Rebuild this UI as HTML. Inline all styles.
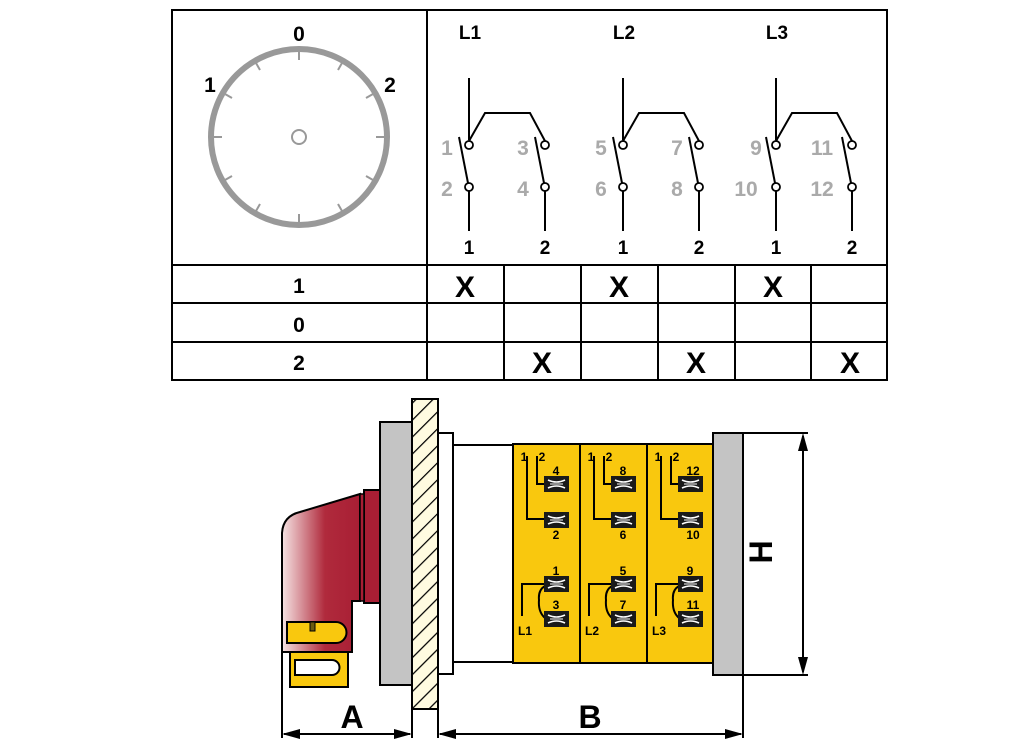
<!DOCTYPE html>
<html><head><meta charset="utf-8"><style>
html,body{margin:0;padding:0;background:#fff;}
svg{display:block;font-family:"Liberation Sans",Arial,sans-serif;font-weight:bold;}
</style></head><body>
<svg width="1024" height="747" viewBox="0 0 1024 747" xmlns="http://www.w3.org/2000/svg">
<defs>
<linearGradient id="rg" x1="0" x2="1" y1="0" y2="0">
<stop offset="0" stop-color="#f6e4e4"/><stop offset="0.55" stop-color="#b02a3c"/><stop offset="1" stop-color="#a81e34"/>
</linearGradient>
<pattern id="hatch" width="12" height="12" patternUnits="userSpaceOnUse" patternTransform="rotate(45)">
<rect width="12" height="12" fill="#fffbe0"/><line x1="0" y1="0" x2="0" y2="12" stroke="#000" stroke-width="2.5"/>
</pattern>
<g id="term">
<rect x="0" y="0" width="25" height="16" fill="#1a1a1a"/>
<path d="M4 4 Q12.5 8 21 4 M4 12 Q12.5 8 21 12" stroke="#fff" stroke-width="1.6" fill="none"/>
<line x1="6" y1="8" x2="19" y2="8" stroke="#fff" stroke-width="1"/>
</g>
<g id="sw" fill="none" stroke="#000" stroke-width="2">
<line x1="41" y1="68" x2="41" y2="130"/>
<polyline points="41,131 57,103 102,103 117,131"/>
<line x1="31" y1="127" x2="40" y2="173"/>
<line x1="107" y1="127" x2="116" y2="173"/>
<line x1="41" y1="181" x2="41" y2="221"/>
<line x1="117" y1="181" x2="117" y2="221"/>
<circle cx="41" cy="135" r="4" fill="#fff" stroke-width="1.8"/>
<circle cx="117" cy="135" r="4" fill="#fff" stroke-width="1.8"/>
<circle cx="41" cy="177" r="4" fill="#fff" stroke-width="1.8"/>
<circle cx="117" cy="177" r="4" fill="#fff" stroke-width="1.8"/>
</g>
</defs>

<!-- table -->
<g stroke="#000" stroke-width="2" fill="none">
<rect x="172" y="10" width="715" height="370"/>
<line x1="427" y1="10" x2="427" y2="380"/>
<line x1="172" y1="265" x2="887" y2="265"/>
<line x1="172" y1="303" x2="887" y2="303"/>
<line x1="172" y1="342" x2="887" y2="342"/>
<line x1="504" y1="265" x2="504" y2="380"/>
<line x1="581" y1="265" x2="581" y2="380"/>
<line x1="658" y1="265" x2="658" y2="380"/>
<line x1="735" y1="265" x2="735" y2="380"/>
<line x1="811" y1="265" x2="811" y2="380"/>
</g>
<g font-size="21" text-anchor="middle" fill="#000">
<text x="299" y="293">1</text><text x="299" y="332">0</text><text x="299" y="370">2</text>
</g>
<g font-size="30" text-anchor="middle" fill="#000">
<text x="465" y="297">X</text><text x="619" y="297">X</text><text x="773" y="297">X</text>
<text x="542" y="373">X</text><text x="696" y="373">X</text><text x="850" y="373">X</text>
</g>

<!-- dial -->
<circle cx="299" cy="137" r="88" fill="none" stroke="#999" stroke-width="6"/>
<circle cx="299" cy="137" r="7" fill="none" stroke="#999" stroke-width="2"/>
<g stroke="#999" stroke-width="2">
<line x1="299" y1="52" x2="299" y2="60"/>
<line x1="299" y1="214" x2="299" y2="222"/>
<line x1="214" y1="137" x2="222" y2="137"/>
<line x1="376" y1="137" x2="384" y2="137"/>
<line x1="256" y1="63" x2="260" y2="70"/>
<line x1="342" y1="63" x2="338" y2="70"/>
<line x1="225" y1="94" x2="232" y2="98"/>
<line x1="373" y1="94" x2="366" y2="98"/>
<line x1="225" y1="180" x2="232" y2="176"/>
<line x1="373" y1="180" x2="366" y2="176"/>
<line x1="256" y1="211" x2="260" y2="204"/>
<line x1="342" y1="211" x2="338" y2="204"/>
</g>
<g font-size="21" text-anchor="middle" fill="#000">
<text x="299" y="41">0</text><text x="210" y="92">1</text><text x="390" y="92">2</text>
</g>

<!-- switches -->
<g font-size="19" text-anchor="middle">
<g transform="translate(428,10)">
<use href="#sw"/>
<text x="42" y="29" fill="#000">L1</text>
<text x="41" y="244" fill="#000">1</text><text x="117" y="244" fill="#000">2</text>
<text x="19" y="145" fill="#aaa" font-size="21">1</text><text x="19" y="186" fill="#aaa" font-size="21">2</text>
<text x="95" y="145" fill="#aaa" font-size="21">3</text><text x="95" y="186" fill="#aaa" font-size="21">4</text>
</g>
<g transform="translate(582,10)">
<use href="#sw"/>
<text x="42" y="29" fill="#000">L2</text>
<text x="41" y="244" fill="#000">1</text><text x="117" y="244" fill="#000">2</text>
<text x="19" y="145" fill="#aaa" font-size="21">5</text><text x="19" y="186" fill="#aaa" font-size="21">6</text>
<text x="95" y="145" fill="#aaa" font-size="21">7</text><text x="95" y="186" fill="#aaa" font-size="21">8</text>
</g>
<g transform="translate(735,10)">
<use href="#sw"/>
<text x="42" y="29" fill="#000">L3</text>
<text x="41" y="244" fill="#000">1</text><text x="117" y="244" fill="#000">2</text>
<text x="21" y="145" fill="#aaa" font-size="21">9</text><text x="11" y="186" fill="#aaa" font-size="21">10</text>
<text x="87" y="145" fill="#aaa" font-size="21">11</text><text x="87" y="186" fill="#aaa" font-size="21">12</text>
</g>
</g>

<!-- bottom drawing -->
<g stroke="#000" stroke-width="2">
<!-- body -->
<rect x="453" y="445" width="60" height="217" fill="#fff"/>
<rect x="438" y="433" width="15" height="241" fill="#fff"/>
<rect x="412" y="399" width="26" height="310" fill="url(#hatch)"/>
<rect x="380" y="422" width="32" height="263" fill="#c4c4c4"/>
<!-- red handle -->
<rect x="364" y="490" width="16" height="113" fill="#a81e34"/>
<path d="M282 652 L282 533 Q283 516 300 512 L360 494 L360 601 L352 601 L352 652 Z" fill="url(#rg)"/>
<rect x="360" y="494" width="4" height="107" fill="#a81e34" stroke-width="1.5"/>
<path d="M287 622 L336 622 A10.5 10.5 0 0 1 336 643 L287 643 Z" fill="#f9c80e"/>
<rect x="310" y="622" width="5" height="9" fill="#6b5a10" stroke-width="1"/>
<rect x="290" y="652" width="58" height="35" fill="#f9c80e"/>
<path d="M295 660 L332 660 A7.5 7.5 0 0 1 332 675 L295 675 Z" fill="#fff"/>
<!-- modules -->
<rect x="513" y="444" width="200" height="219" fill="#f9c80e"/>
<line x1="580" y1="444" x2="580" y2="663"/>
<line x1="647" y1="444" x2="647" y2="663"/>
<rect x="713" y="433" width="30" height="242" fill="#c4c4c4"/>
</g>

<!-- module internals -->
<g font-size="12" text-anchor="middle" fill="#000">
<g transform="translate(0,0)">
<path d="M527 456 V519 H545 M537 456 V484 H545 M545 584 H522 V616 M545 586 Q538 590 539 600 Q538 612 545 618" stroke="#000" stroke-width="2" fill="none"/>
<use href="#term" x="544" y="476"/><use href="#term" x="544" y="512"/><use href="#term" x="544" y="576"/><use href="#term" x="544" y="611"/>
<text x="524" y="461">1</text><text x="542" y="461">2</text>
<text x="556" y="475">4</text><text x="556" y="539">2</text><text x="556" y="575">1</text><text x="556" y="609">3</text>
<text x="525" y="635">L1</text>
</g>
<g transform="translate(67,0)">
<path d="M527 456 V519 H545 M537 456 V484 H545 M545 584 H522 V616 M545 586 Q538 590 539 600 Q538 612 545 618" stroke="#000" stroke-width="2" fill="none"/>
<use href="#term" x="544" y="476"/><use href="#term" x="544" y="512"/><use href="#term" x="544" y="576"/><use href="#term" x="544" y="611"/>
<text x="524" y="461">1</text><text x="542" y="461">2</text>
<text x="556" y="475">8</text><text x="556" y="539">6</text><text x="556" y="575">5</text><text x="556" y="609">7</text>
<text x="525" y="635">L2</text>
</g>
<g transform="translate(134,0)">
<path d="M527 456 V519 H545 M537 456 V484 H545 M545 584 H522 V616 M545 586 Q538 590 539 600 Q538 612 545 618" stroke="#000" stroke-width="2" fill="none"/>
<use href="#term" x="544" y="476"/><use href="#term" x="544" y="512"/><use href="#term" x="544" y="576"/><use href="#term" x="544" y="611"/>
<text x="524" y="461">1</text><text x="542" y="461">2</text>
<text x="559" y="475">12</text><text x="559" y="539">10</text><text x="556" y="575">9</text><text x="559" y="609">11</text>
<text x="525" y="635">L3</text>
</g>
</g>

<!-- dimensions -->
<g stroke="#000" stroke-width="2" fill="none">
<line x1="743" y1="433" x2="808" y2="433"/>
<line x1="743" y1="675" x2="808" y2="675"/>
<line x1="803" y1="436" x2="803" y2="672"/>
<line x1="282" y1="652" x2="282" y2="738"/>
<line x1="412" y1="709" x2="412" y2="738"/>
<line x1="438" y1="709" x2="438" y2="738"/>
<line x1="743" y1="675" x2="743" y2="738"/>
<line x1="284" y1="734" x2="410" y2="734"/>
<line x1="440" y1="734" x2="741" y2="734"/>
</g>
<g fill="#000">
<polygon points="803,433 798,451 808,451"/>
<polygon points="803,675 798,657 808,657"/>
<polygon points="282,734 300,729 300,739"/>
<polygon points="412,734 394,729 394,739"/>
<polygon points="438,734 456,729 456,739"/>
<polygon points="743,734 725,729 725,739"/>
</g>
<g font-size="32" text-anchor="middle" fill="#000">
<text x="352" y="728">A</text>
<text x="590" y="728">B</text>
<text transform="translate(772,552) rotate(-90)" x="0" y="0">H</text>
</g>
</svg>
</body></html>
